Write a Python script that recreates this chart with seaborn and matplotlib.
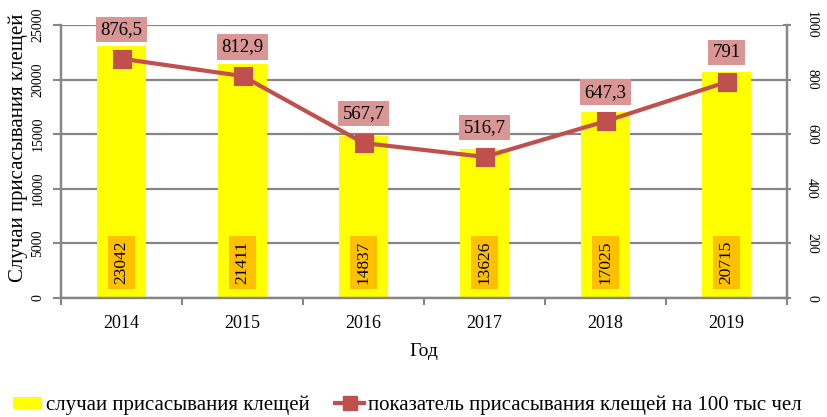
import numpy as np
import pandas as pd
import seaborn as sns
import matplotlib.pyplot as plt
from matplotlib.patches import Patch
from matplotlib.lines import Line2D
import matplotlib.transforms as mtransforms

years = ['2014', '2015', '2016', '2017', '2018', '2019']
cases = [23042, 21411, 14837, 13626, 17025, 20715]
rate = [876.5, 812.9, 567.7, 516.7, 647.3, 791]
rate_labels = ['876,5', '812,9', '567,7', '516,7', '647,3', '791']

df = pd.DataFrame({'year': years, 'cases': cases, 'rate': rate})

plt.rcParams['font.family'] = ['Liberation Serif', 'DejaVu Serif']

bar_color = '#ffff00'
line_color = '#c0504d'
grid_color = '#868686'

fig = plt.figure(figsize=(8.28, 4.17), dpi=100)
ax = fig.add_axes([0.0737, 0.2854, 0.8768, 0.6547])

sns.barplot(data=df, x='year', y='cases', color=bar_color, saturation=1,
            width=0.4, linewidth=0, ax=ax)

ax2 = ax.twinx()
sns.pointplot(data=df, x='year', y='rate', ax=ax2, color=line_color,
              markers='s', markersize=12, linewidth=3)

# left axis
ax.set_ylim(0, 25000)
ax.set_yticks(np.arange(0, 25001, 5000))
ax.set_axisbelow(True)
ax.yaxis.grid(True, color=grid_color, linewidth=1.6)
ax.set_ylabel('Случаи присасывания клещей', fontsize=15)
ax.yaxis.set_label_coords(-0.045, 0.55)
ax.set_xlabel('Год', fontsize=14, labelpad=8)
for lab in ax.get_yticklabels():
    lab.set_rotation(90)
    lab.set_va('center')
ax.tick_params(axis='y', labelsize=10, length=6, width=1.5, color=grid_color, pad=6)

# right axis
ax2.set_ylim(0, 1000)
ax2.set_yticks(np.arange(0, 1001, 200))
ax2.set_ylabel('')
for lab in ax2.get_yticklabels():
    lab.set_rotation(-90)
    lab.set_va('center')
ax2.tick_params(axis='y', labelsize=10, length=6, width=1.5, color=grid_color,
                direction='inout', pad=10)

# x axis: labels at centers, ticks at category boundaries
ax.set_xlim(-0.5, len(years) - 0.5)
ax.set_xticks(range(len(years)))
ax.set_xticklabels(years)
ax.set_xticks(np.arange(-0.5, len(years), 1), minor=True)
ax.tick_params(axis='x', which='major', length=0, labelsize=13, pad=12)
ax.tick_params(axis='x', which='minor', length=5, width=1.5, color=grid_color)

for a in (ax, ax2):
    a.spines['top'].set_visible(False)
    for s in ('left', 'right', 'bottom'):
        a.spines[s].set_color(grid_color)
        a.spines[s].set_linewidth(1.6)

# bar value labels near the bottom of each bar
trans = mtransforms.blended_transform_factory(ax.transData, ax.transAxes)
for i, v in enumerate(cases):
    ax.text(i, 0.13, str(v), transform=trans, rotation=90, ha='center', va='center',
            fontsize=12.5,
            bbox=dict(boxstyle='square,pad=0.3', facecolor='#ffc000', edgecolor='none'))

# line value labels above points
for i, (v, t) in enumerate(zip(rate, rate_labels)):
    ax2.annotate(t, (i, v), xytext=(0, 21), textcoords='offset points',
                 ha='center', va='center', fontsize=13.5, zorder=5,
                 bbox=dict(boxstyle='square,pad=0.22', facecolor='#d99694', edgecolor='none'))

handles = [Patch(facecolor=bar_color, edgecolor='none'),
           Line2D([0], [0], color=line_color, linewidth=3, marker='s', markersize=10)]
labels = ['случаи присасывания клещей', 'показатель присасывания клещей на 100 тыс чел']
fig.legend(handles, labels, loc='center', bbox_to_anchor=(0.492, 0.028), ncol=2,
           frameon=False, fontsize=15, handlelength=1.4, handleheight=0.5,
           handletextpad=0.2, columnspacing=1.2)

fig.savefig('out.png', dpi=100)
